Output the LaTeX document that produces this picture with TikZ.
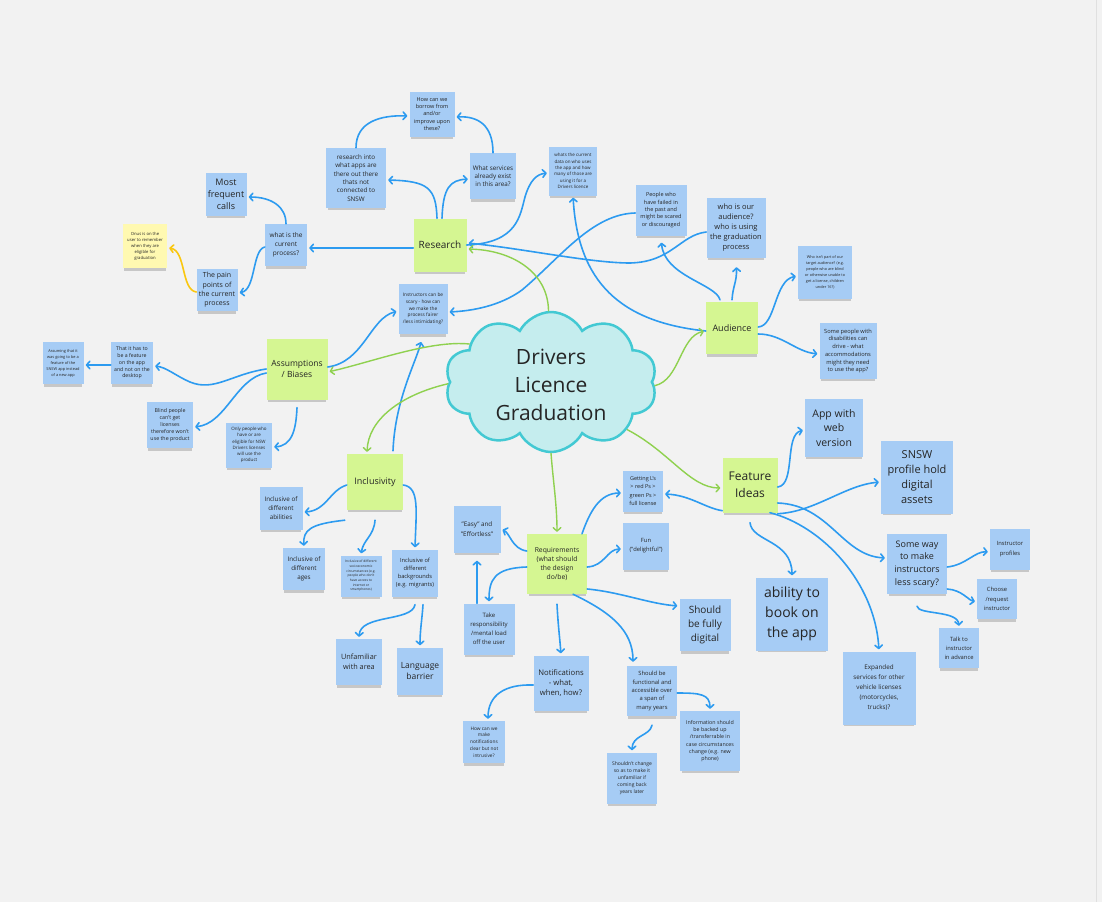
\documentclass[tikz,border=0pt]{standalone}
\usepackage{fontspec}
\setmainfont{Open Sans}
\usetikzlibrary{arrows.meta,shapes.symbols,shadows}
\definecolor{bg}{HTML}{F2F2F2}
\definecolor{nblue}{HTML}{A6CCF5}
\definecolor{ngreen}{HTML}{D5F692}
\definecolor{nyellow}{HTML}{FFF9B1}
\definecolor{cblue}{HTML}{2D9BF0}
\definecolor{cgreen}{HTML}{8FD14F}
\definecolor{cyellow}{HTML}{FAC710}
\definecolor{txt}{HTML}{252525}
\definecolor{cloudfill}{HTML}{C5EDEE}
\definecolor{clouddraw}{HTML}{43C9D3}
\newcommand\fsz[2]{\fontsize{#1pt}{#2pt}\selectfont}
\begin{document}
\begin{tikzpicture}[x=1pt,y=-1pt,
  stk/.style={rectangle, inner sep=0pt, align=center, text=txt,
    drop shadow={shadow xshift=0pt, shadow yshift=-4pt, shadow scale=0.95, opacity=0.3, fill=black!60}},
  bsn/.style={stk, fill=nblue},
  gsn/.style={stk, fill=ngreen},
  ysn/.style={stk, fill=nyellow},
  sz/.style 2 args={minimum width=#1pt, minimum height=#2pt},
  fz/.style 2 args={font=\fsz{#1}{#2}},
  con/.style={line width=1.6pt, line cap=round, shorten >=2pt, -{Straight Barb[length=3.4pt,width=7.5pt,round]}},
  blu/.style={con, draw=cblue},
  grn/.style={con, draw=cgreen, line width=1.4pt},
  ylw/.style={con, draw=cyellow},
]
\useasboundingbox (0,0) rectangle (1102,902);
\fill[bg] (0,0) rectangle (1102,902);
\draw[black!12, line width=1pt] (1096,0) -- (1096,902);

% centre cloud
\node[cloud, cloud puffs=10, cloud puff arc=125, cloud ignores aspect, minimum width=212pt, minimum height=140pt, inner sep=0pt, fill=cloudfill, draw=clouddraw, line width=2.5pt] (cloud) at (551,382) {};
\node[font=\fsz{21}{28}, text=txt, align=center] (title) at (551,385) {Drivers\\Licence\\Graduation};

% hub notes
\node[gsn,sz={53}{53},fz={10}{12}] (res) at (440,245) {Research};
\node[gsn,sz={61}{61},fz={8.5}{10.7}] (ass) at (297,369) {Assumptions\\/ Biases};
\node[gsn,sz={52}{52},fz={9}{11}] (aud) at (732,328) {Audience};
\node[gsn,sz={56}{56},fz={9}{11}] (inc) at (375,482) {Inclusivity};
\node[gsn,sz={60}{60},fz={6.8}{9.3}] (req) at (557,564) {Requirements\\(what should\\the design\\do/be)};
\node[gsn,sz={55}{55},fz={12}{16.5}] (fea) at (750,485) {Feature\\Ideas};

% research cluster
\node[bsn,sz={45}{45},fz={5.5}{7.3}] (how) at (432,114) {How can we\\borrow from\\and/or\\improve upon\\these?};
\node[bsn,sz={60}{60},fz={6.3}{8.3}] (resinto) at (356,178) {research into\\what apps are\\there out there\\thats not\\connected to\\SNSW};
\node[bsn,sz={46}{46},fz={6.3}{8}] (whatserv) at (493,176) {What services\\already exist\\in this area?};
\node[bsn,sz={48}{49},fz={4.5}{6.3}] (data) at (573,171) {whats the current\\data on who uses\\the app and how\\many of those are\\using it for a\\Drivers licence};
\node[bsn,sz={41}{43},fz={9}{12}] (freq) at (226,194) {Most\\frequent\\calls};
\node[bsn,sz={42}{42},fz={6.5}{8.7}] (cur) at (286,245) {what is the\\current\\process?};
\node[ysn,sz={44}{44},fz={4.2}{6}] (onus) at (145,246) {Onus is on the\\user to remember\\when they are\\eligible for\\graduation};
\node[bsn,sz={41}{42},fz={7}{9.3}] (pain) at (217,290) {The pain\\points of\\the current\\process};
\node[bsn,sz={49}{50},fz={4.8}{6.7}] (instr) at (423,309) {Instructors can be\\scary - how can\\we make the\\process fairer\\/less intimidating?};

% assumptions cluster
\node[bsn,sz={41}{42},fz={3.9}{6}] (assum) at (63,363) {Assuming that it\\was going to be a\\feature of the\\SNSW app instead\\of a new app};
\node[bsn,sz={42}{42},fz={5.2}{6.7}] (thatit) at (132,363) {That it has to\\be a feature\\on the app\\and not on the\\desktop};
\node[bsn,sz={46}{46},fz={5.3}{7}] (blind) at (170,425) {Blind people\\can't get\\licenses\\therefore won't\\use the product};
\node[bsn,sz={46}{45},fz={4.5}{6.2}] (only) at (249,445) {Only people who\\have or are\\eligible for NSW\\Drivers licenses\\will use the\\product};

% audience cluster
\node[bsn,sz={51}{51},fz={5.5}{7.3}] (failed) at (661,210) {People who\\have failed in\\the past and\\might be scared\\or discouraged};
\node[bsn,sz={59}{60},fz={7.5}{10}] (whois) at (736,228) {who is our\\audience?\\who is using\\the graduation\\process};
\node[bsn,sz={54}{53},fz={3.8}{6}] (whoisnt) at (825,272) {Who isn't part of our\\target audience? (e.g.\\people who are blind\\or otherwise unable to\\get a license, children\\under 16?)};
\node[bsn,sz={57}{56},fz={5.7}{7.7}] (somepeople) at (848,351) {Some people with\\disabilities can\\drive - what\\accommodations\\might they need\\to use the app?};

% inclusivity cluster
\node[bsn,sz={43}{43},fz={6.3}{9}] (abil) at (281,508) {Inclusive of\\different\\abilities};
\node[bsn,sz={42}{42},fz={6.3}{9}] (ages) at (304,569) {Inclusive of\\different\\ages};
\node[bsn,sz={41}{41},fz={3.3}{4.7}] (socio) at (361,576) {Inclusive of different\\socioeconomic\\circumstances (e.g.\\people who don't\\have access to\\internet or\\smartphones)};
\node[bsn,sz={46}{47},fz={5.7}{7.7}] (back) at (415,573) {Inclusive of\\different\\backgrounds\\(e.g. migrants)};
\node[bsn,sz={46}{46},fz={7.3}{10}] (unfam) at (359,662) {Unfamiliar\\with area};
\node[bsn,sz={46}{47},fz={8.5}{11.7}] (lang) at (420,671) {Language\\barrier};

% requirements cluster
\node[bsn,sz={40}{41},fz={5.5}{8.3}] (getting) at (643,491) {Getting L's\\> red Ps >\\green Ps >\\full license};
\node[bsn,sz={47}{47},fz={6.3}{9.3}] (easy) at (477,529) {"Easy" and\\"Effortless"};
\node[bsn,sz={46}{47},fz={5.8}{9}] (fun) at (646,546) {Fun\\("delightful")};
\node[bsn,sz={51}{51},fz={6}{9}] (take) at (489,629) {Take\\responsibility\\/mental load\\off the user};
\node[bsn,sz={51}{52},fz={10}{14}] (digital) at (705,625) {Should\\be fully\\digital};
\node[bsn,sz={55}{55},fz={7.7}{10}] (notif) at (561,683) {Notifications\\- what,\\when, how?};
\node[bsn,sz={50}{50},fz={5.8}{8.3}] (func) at (652,691) {Should be\\functional and\\accessible over\\a span of\\many years};
\node[bsn,sz={42}{42},fz={4.8}{6.7}] (howmake) at (484,742) {How can we\\make\\notifications\\clear but not\\intrusive?};
\node[bsn,sz={50}{51},fz={5}{7}] (shouldnt) at (632,778) {Shouldn't change\\so as to make it\\unfamiliar if\\coming back\\years later};
\node[bsn,sz={60}{60},fz={5.3}{7.3}] (info) at (710,741) {Information should\\be backed up\\/transferrable in\\case circumstances\\change (e.g. new\\phone)};

% feature cluster
\node[bsn,sz={58}{58},fz={10.5}{14.7}] (app) at (834,428) {App with\\web\\version};
\node[bsn,sz={72}{73},fz={11}{15}] (snsw) at (917,477) {SNSW\\profile hold\\digital\\assets};
\node[bsn,sz={60}{60},fz={9}{12.7}] (someway) at (917,564) {Some way\\to make\\instructors\\less scary?};
\node[bsn,sz={40}{41},fz={5.8}{10}] (instprof) at (1010,549) {Instructor\\profiles};
\node[bsn,sz={40}{40},fz={5.8}{9.3}] (choose) at (997,599) {Choose\\/request\\instructor};
\node[bsn,sz={40}{40},fz={5.8}{9}] (talk) at (959,648) {Talk to\\instructor\\in advance};
\node[bsn,sz={72}{73},fz={14}{20}] (book) at (792,614) {ability to\\book on\\the app};
\node[bsn,sz={73}{73},fz={6.3}{10}] (expanded) at (879,688) {Expanded\\services for other\\vehicle licenses\\(motorcycles,\\trucks)?};

% ---------- connectors ----------
% research
\draw[blu] ([xshift=-3pt]res.north) .. controls (436,188) and (428,181) .. ([yshift=-2pt]resinto.east);
\draw[blu] ([xshift=2pt]res.north) .. controls (443,188) and (450,180) .. ([yshift=-3pt]whatserv.west);
\draw[blu] (resinto.north) .. controls (356,122) and (380,115) .. ([yshift=-2pt]how.west);
\draw[blu] (whatserv.north) .. controls (493,125) and (478,116) .. ([yshift=-3pt]how.east);
\draw[blu] (res.east) .. controls (518,243) and (520,215) .. (525,197) .. controls (530,180) and (537,174) .. ([yshift=-2pt]data.west);
\draw[blu] ([yshift=-3pt]res.west) -- ([yshift=-3pt]cur.east);
\draw[blu] (cur.north) .. controls (286,207) and (272,197) .. ([yshift=-3pt]freq.east);
\draw[blu] ([yshift=-2pt]cur.west) .. controls (252,250) and (256,290) .. ([yshift=-3pt]pain.east);
\draw[ylw] ([yshift=-2pt]pain.west) .. controls (181,290) and (186,250) .. ([yshift=-2pt]onus.east);

% audience
\draw[blu] ([yshift=-3pt]aud.west) .. controls (620,322) and (578,282) .. (data.south);
\draw[blu, shorten >=7pt] ([xshift=-12pt,yshift=2pt]aud.north) .. controls (716,284) and (664,276) .. (failed.south);
\draw[blu, shorten >=9pt] ([yshift=2pt]aud.north) .. controls (733,285) and (737,282) .. (whois.south);
\draw[blu] ([yshift=1pt]aud.east) .. controls (776,326) and (774,280) .. ([yshift=-4pt]whoisnt.west);
\draw[blu] ([yshift=-6pt]aud.east) .. controls (782,334) and (796,352) .. ([yshift=-3pt]somepeople.west);
\draw[blu] ([yshift=-3pt]failed.west) .. controls (592,214) and (560,258) .. (522,290) .. controls (500,306) and (472,311) .. ([yshift=-3pt]instr.east);
\draw[blu] ([yshift=-4pt]whois.west) .. controls (680,235) and (672,262) .. (630,263) .. controls (590,263) and (520,248) .. ([yshift=2pt]res.east);

% assumptions
\draw[blu] ([yshift=2pt]ass.east) .. controls (364,362) and (370,318) .. ([yshift=-2pt]instr.west);
\draw[blu] (ass.west) .. controls (232,374) and (214,392) .. (190,382) .. controls (176,376) and (166,367) .. ([yshift=-3pt]thatit.east);
\draw[blu] ([yshift=-2pt]thatit.west) -- ([yshift=-2pt]assum.east);
\draw[blu] ([yshift=-4pt]ass.west) .. controls (236,378) and (226,424) .. ([yshift=-2pt]blind.east);
\draw[blu] ([yshift=-8pt]ass.south) .. controls (296,430) and (292,446) .. ([yshift=-2pt]only.east);

% inclusivity
\draw[blu, shorten >=8pt] ([xshift=18pt,yshift=3pt]inc.north) .. controls (395,400) and (416,362) .. (instr.south);
\draw[blu] ([yshift=-3pt]inc.west) .. controls (330,490) and (326,511) .. ([yshift=-4pt]abil.east);
\draw[blu] ([xshift=-2pt,yshift=-10pt]inc.south west) .. controls (310,524) and (303,530) .. (ages.north);
\draw[blu] ([yshift=-10pt]inc.south) .. controls (374,536) and (363,540) .. (socio.north);
\draw[blu] ([yshift=-3pt]inc.east) .. controls (420,487) and (416,512) .. (back.north);
\draw[blu] ([yshift=-8pt]back.south) .. controls (412,622) and (360,614) .. (unfam.north);
\draw[blu] ([xshift=8pt,yshift=-8pt]back.south) .. controls (422,620) and (420,630) .. (lang.north);

% requirements
\draw[blu] ([xshift=25pt]req.north) .. controls (590,511) and (600,493) .. ([yshift=-2pt]getting.west);
\draw[blu] ([yshift=2pt]fea.south west) .. controls (705,508) and (690,495) .. ([yshift=-3pt]getting.east);
\draw[blu] ([yshift=13pt]req.west) .. controls (512,549) and (510,533) .. (easy.east);
\draw[blu] ([yshift=-3pt]req.east) .. controls (605,566) and (607,549) .. ([yshift=-3pt]fun.west);
\draw[blu] ([yshift=-3pt]req.west) .. controls (494,568) and (489,580) .. (take.north);
\draw[blu, shorten >=8pt] ([xshift=-12pt]take.north) -- (easy.south);
\draw[blu] ([yshift=-25pt]req.east) .. controls (620,592) and (650,604) .. ([yshift=19pt]digital.west);
\draw[blu] ([yshift=-10pt]req.south) .. controls (558,625) and (560,640) .. (notif.north);
\draw[blu, shorten >=4pt] ([xshift=16pt]req.south) .. controls (610,612) and (633,630) .. ([xshift=-19pt]func.north);
\draw[blu] ([yshift=-2pt]notif.west) .. controls (505,684) and (488,695) .. ([xshift=4pt]howmake.north);
\draw[blu] ([yshift=-9pt]func.south) .. controls (650,736) and (632,735) .. (shouldnt.north);
\draw[blu] ([yshift=-2pt]func.east) .. controls (700,693) and (710,694) .. (info.north);

% features
\draw[blu] ([yshift=-2pt]fea.east) .. controls (796,485) and (784,434) .. ([yshift=-2pt]app.west);
\draw[blu] ([yshift=-1pt]fea.south east) .. controls (815,512) and (845,485) .. ([yshift=-5pt]snsw.west);
\draw[blu] ([yshift=-18pt]fea.east) .. controls (830,505) and (842,556) .. ([yshift=6pt]someway.west);
\draw[blu] ([yshift=-10pt]fea.south) .. controls (752,542) and (792,540) .. (book.north);
\draw[blu] ([xshift=20pt]fea.south) .. controls (822,526) and (875,582) .. (expanded.north);
\draw[blu] ([yshift=-3pt]someway.east) .. controls (966,565) and (975,551) .. ([yshift=-3pt]instprof.west);
\draw[blu] ([yshift=-25pt]someway.east) .. controls (962,590) and (968,600) .. ([yshift=-3pt]choose.west);
\draw[blu] ([yshift=-12pt]someway.south) .. controls (918,615) and (958,610) .. (talk.north);

% green hub links
\draw[grn] (cloud.92) .. controls (548,272) and (512,250) .. ([yshift=-4pt]res.east);
\draw[grn] (cloud.155) .. controls (430,340) and (372,362) .. ([yshift=-3pt]ass.east);
\draw[grn] (cloud.181) .. controls (400,395) and (368,420) .. ([xshift=-8pt]inc.north);
\draw[grn] (cloud.358) .. controls (680,380) and (680,336) .. ([yshift=-3pt]aud.west);
\draw[grn] (cloud.328) .. controls (670,452) and (690,488) .. ([yshift=-3pt]fea.west);
\draw[grn] (cloud.270) .. controls (553,480) and (557,505) .. (req.north);
\end{tikzpicture}
\end{document}
